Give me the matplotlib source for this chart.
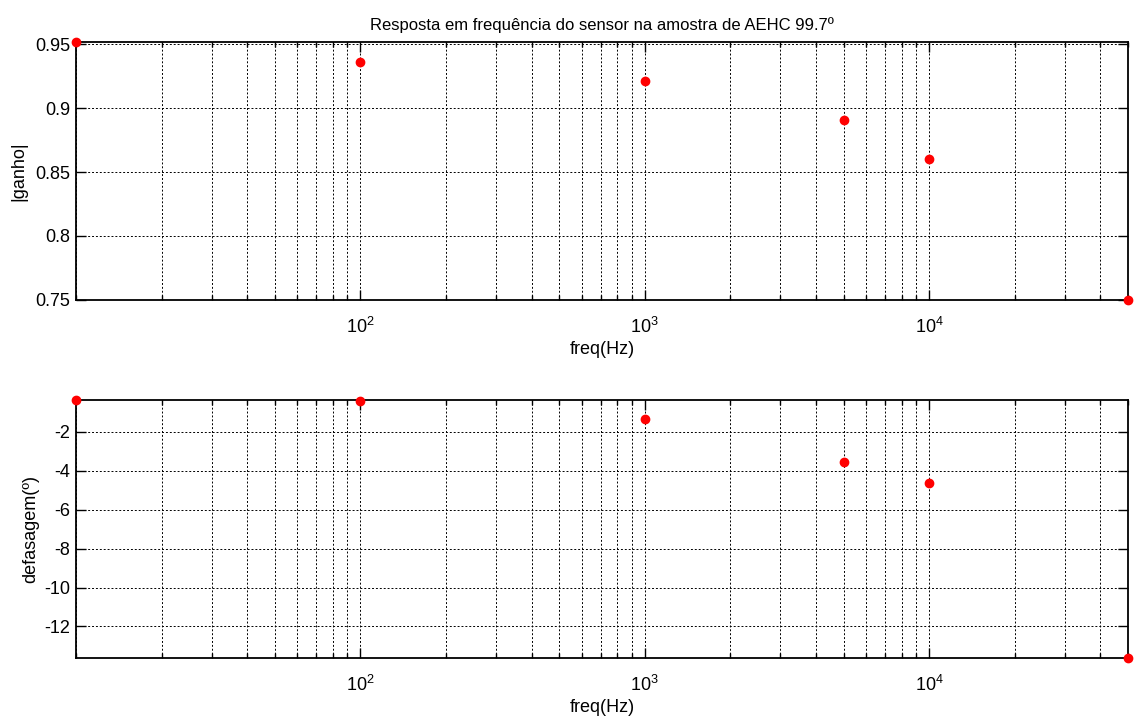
import matplotlib
matplotlib.use("Agg")
import matplotlib.pyplot as plt
from matplotlib.ticker import LogLocator, NullFormatter, FixedLocator

plt.rcParams['font.family'] = ['Liberation Sans', 'DejaVu Sans']
plt.rcParams['font.size'] = 13
plt.rcParams['axes.unicode_minus'] = False

freq = [10, 100, 1000, 5000, 10000, 50000]
ganho = [0.9516, 0.936, 0.921, 0.891, 0.860, 0.7502]
fase = [-0.36, -0.42, -1.33, -3.55, -4.63, -13.62]

gain_ticks = [0.75, 0.8, 0.85, 0.9, 0.95]
gain_labels = ['0.75', '0.8', '0.85', '0.9', '0.95']
phase_ticks = [-12, -10, -8, -6, -4, -2]


def style_axes(ax):
    ax.set_xscale('log')
    ax.set_xlim(10, 50000)
    ax.xaxis.set_major_locator(FixedLocator([100, 1000, 10000]))
    ax.xaxis.set_minor_locator(LogLocator(base=10, subs=range(1, 10), numticks=20))
    ax.xaxis.set_minor_formatter(NullFormatter())
    ax.grid(True, which='major', axis='both', color='black', linestyle=(0, (2, 2)), linewidth=0.7)
    ax.grid(True, which='minor', axis='x', color='black', linestyle=(0, (2, 2)), linewidth=0.7)
    ax.tick_params(which='both', direction='in', top=True, right=True, width=1.0, labelsize=13)
    ax.tick_params(which='major', length=7)
    ax.tick_params(which='minor', length=3.5)
    ax.tick_params(axis='x', which='major', pad=12)
    ax.tick_params(axis='y', which='major', pad=4)
    for s in ax.spines.values():
        s.set_linewidth(1.3)
    ax.set_xlabel('freq(Hz)', labelpad=3)


def main():
    fig = plt.figure(figsize=(11.34, 7.18), dpi=100)
    ax1 = fig.add_axes([0.067, 0.5822, 0.9277, 0.3593])
    ax2 = fig.add_axes([0.067, 0.0836, 0.9277, 0.3593])

    ax1.plot(freq, ganho, 'o', color='red', markersize=6, clip_on=False, zorder=5)
    style_axes(ax1)
    ax1.set_ylim(min(ganho), max(ganho))
    ax1.set_yticks(gain_ticks)
    ax1.set_yticklabels(gain_labels)
    ax1.set_ylabel('|ganho|', labelpad=6)
    ax1.set_title('Resposta em frequência do sensor na amostra de AEHC 99.7º', fontsize=12, pad=9)

    ax2.plot(freq, fase, 'o', color='red', markersize=6, clip_on=False, zorder=5)
    style_axes(ax2)
    ax2.set_ylim(min(fase), max(fase))
    ax2.set_yticks(phase_ticks)
    ax2.set_ylabel('defasagem(º)', labelpad=4)

    fig.savefig('out.png', dpi=100)


if __name__ == "__main__":
    main()
